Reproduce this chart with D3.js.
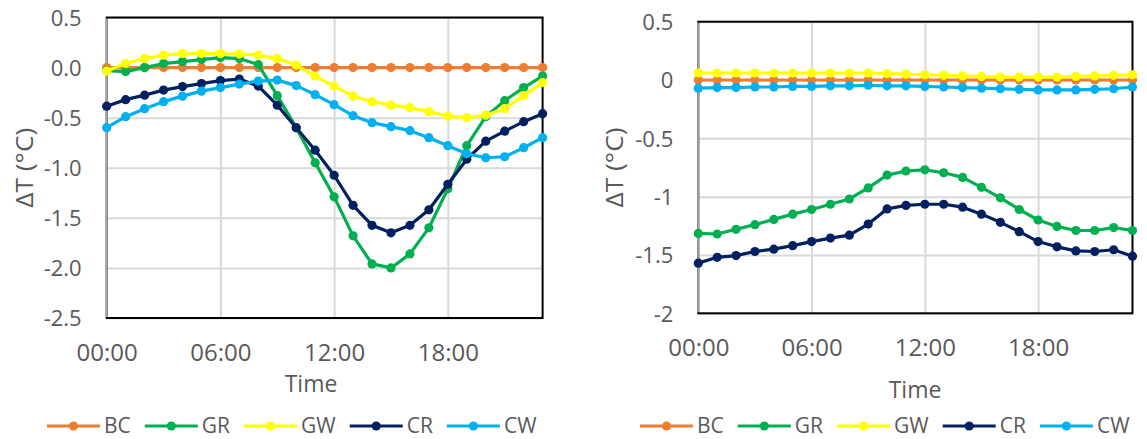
<!DOCTYPE html>
<html>
<head>
<meta charset="utf-8">
<script src="https://cdn.jsdelivr.net/npm/d3@7.9.0/dist/d3.min.js"></script>
<style>
  body { margin: 0; background: #fff; }
  svg text { font-family: "Open Sans", sans-serif; fill: #595959; }
</style>
</head>
<body>
<svg id="chart" width="1147" height="439"></svg>
<script>
// categories
const hours = [0, 1, 2, 3, 4, 5, 6, 7, 8, 9, 10, 11, 12, 13, 14, 15, 16, 17, 18, 19, 20, 21, 22, 23];
const timeTicks = [0, 6, 12, 18];
const timeLabels = ["00:00", "06:00", "12:00", "18:00"];
const seriesNames = ["BC", "GR", "GW", "CR", "CW"];
const seriesColors = ["#ED7D31", "#00B050", "#FFFF00", "#002060", "#00B0F0"];

// left panel
const leftTicks = [0.5, 0, -0.5, -1, -1.5, -2, -2.5];
const leftTickLabels = ["0.5", "0.0", "-0.5", "-1.0", "-1.5", "-2.0", "-2.5"];
const bcLeft = [0, 0, 0, 0, 0, 0, 0, 0, 0, 0, 0, 0, 0, 0, 0, 0, 0, 0, 0, 0, 0, 0, 0, 0];
const grLeft = [-0.03, -0.04, 0.0, 0.04, 0.06, 0.08, 0.10, 0.09, 0.03, -0.28, -0.60, -0.95, -1.29, -1.68, -1.96, -2.00, -1.86, -1.60, -1.21, -0.78, -0.49, -0.33, -0.20, -0.085];
const gwLeft = [-0.035, 0.04, 0.09, 0.125, 0.14, 0.14, 0.14, 0.135, 0.125, 0.09, 0.025, -0.085, -0.185, -0.285, -0.34, -0.375, -0.40, -0.44, -0.485, -0.50, -0.475, -0.41, -0.28, -0.15];
const crLeft = [-0.385, -0.32, -0.275, -0.225, -0.19, -0.16, -0.13, -0.115, -0.185, -0.375, -0.60, -0.825, -1.075, -1.375, -1.575, -1.65, -1.575, -1.42, -1.165, -0.915, -0.735, -0.635, -0.54, -0.46];
const cwLeft = [-0.60, -0.49, -0.41, -0.34, -0.285, -0.235, -0.20, -0.165, -0.135, -0.125, -0.18, -0.27, -0.37, -0.48, -0.55, -0.59, -0.63, -0.70, -0.78, -0.86, -0.90, -0.89, -0.80, -0.70];

// right panel
const rightTicks = [0.5, 0, -0.5, -1, -1.5, -2];
const rightTickLabels = ["0.5", "0", "-0.5", "-1", "-1.5", "-2"];
const bcRight = [0, 0, 0, 0, 0, 0, 0, 0, 0, 0, 0, 0, 0, 0, 0, 0, 0, 0, 0, 0, 0, 0, 0, 0];
const grRight = [-1.315, -1.32, -1.28, -1.24, -1.195, -1.15, -1.11, -1.065, -1.02, -0.925, -0.815, -0.78, -0.77, -0.795, -0.835, -0.92, -1.01, -1.11, -1.2, -1.255, -1.29, -1.29, -1.265, -1.29];
const gwRight = [0.06, 0.06, 0.06, 0.06, 0.06, 0.06, 0.06, 0.06, 0.06, 0.06, 0.055, 0.05, 0.045, 0.04, 0.035, 0.03, 0.025, 0.025, 0.025, 0.025, 0.03, 0.035, 0.04, 0.045];
const crRight = [-1.57, -1.52, -1.505, -1.47, -1.45, -1.42, -1.385, -1.355, -1.33, -1.235, -1.105, -1.075, -1.065, -1.065, -1.09, -1.15, -1.22, -1.3, -1.385, -1.43, -1.465, -1.47, -1.455, -1.51];
const cwRight = [-0.07, -0.065, -0.065, -0.06, -0.06, -0.055, -0.055, -0.05, -0.05, -0.045, -0.05, -0.05, -0.055, -0.06, -0.065, -0.07, -0.075, -0.08, -0.085, -0.085, -0.085, -0.08, -0.075, -0.06];

const svg = d3.select("#chart");

function drawPanel(p) {
  const x = d3.scaleLinear().domain([0, 23]).range([p.left, p.right]);
  const y = d3.scaleLinear().domain([p.yTicks[p.yTicks.length - 1], p.yTicks[0]]).range([p.bottom, p.top]);
  const g = svg.append("g");

  // horizontal gridlines
  g.append("g")
    .attr("transform", `translate(${p.left},0)`)
    .call(d3.axisLeft(y).tickValues(p.yTicks).tickSize(-(p.right - p.left)).tickFormat(""))
    .call(a => a.select(".domain").remove())
    .call(a => a.selectAll("line").attr("stroke", "#d9d9d9").attr("stroke-width", 2));

  // vertical gridlines
  g.append("g")
    .attr("transform", `translate(0,${p.bottom})`)
    .call(d3.axisBottom(x).tickValues(timeTicks.slice(1)).tickSize(-(p.bottom - p.top)).tickFormat(""))
    .call(a => a.select(".domain").remove())
    .call(a => a.selectAll("line").attr("stroke", "#d9d9d9").attr("stroke-width", 2));

  // plot frame
  g.append("rect")
    .attr("x", p.left).attr("y", p.top)
    .attr("width", p.right - p.left).attr("height", p.bottom - p.top)
    .attr("fill", "none").attr("stroke", "#000").attr("stroke-width", 2);

  // y axis
  g.append("g")
    .attr("transform", `translate(${p.left},0)`)
    .call(d3.axisLeft(y).tickValues(p.yTicks).tickSize(0).tickPadding(25)
      .tickFormat((d, i) => p.yLabels[i]))
    .call(a => a.select(".domain").attr("stroke", "#a6a6a6").attr("stroke-width", 2)
      .attr("d", `M0,${p.top + 1}V${p.bottom - 1}`))
    .call(a => a.selectAll("text").attr("font-size", 22).attr("dy", "0.35em")
      .attr("font-family", "Open Sans").attr("fill", "#595959"));

  // x axis labels
  g.append("g")
    .attr("transform", `translate(0,${p.bottom})`)
    .call(d3.axisBottom(x).tickValues(timeTicks).tickSize(0)
      .tickFormat((d, i) => timeLabels[i]))
    .call(a => a.select(".domain").remove())
    .call(a => a.selectAll("text").attr("font-size", 24).attr("dy", null).attr("y", 43)
      .attr("font-family", "Open Sans").attr("fill", "#595959"));

  // titles
  g.append("text")
    .attr("x", p.timeX).attr("y", p.timeY)
    .attr("text-anchor", "middle").attr("font-size", 23)
    .text("Time");
  g.append("text")
    .attr("transform", `translate(${p.yTitleX},${(p.top + p.bottom) / 2}) rotate(-90)`)
    .attr("text-anchor", "middle").attr("font-size", 23)
    .attr("textLength", 80).attr("lengthAdjust", "spacingAndGlyphs")
    .text("ΔT (°C)");

  // series
  const line = d3.line().x((d, i) => x(hours[i])).y(d => y(d));
  p.values.forEach((vals, k) => {
    const s = g.append("g");
    s.append("path")
      .attr("d", line(vals))
      .attr("fill", "none")
      .attr("stroke", seriesColors[k])
      .attr("stroke-width", 3.2)
      .attr("stroke-linejoin", "round");
    s.selectAll("circle").data(vals).join("circle")
      .attr("cx", (d, i) => x(hours[i]))
      .attr("cy", d => y(d))
      .attr("r", 4.6)
      .attr("fill", seriesColors[k]);
  });

  // legend
  const legend = g.append("g").attr("transform", `translate(${p.legendX},426)`);
  let cx = 0;
  seriesNames.forEach((name, k) => {
    legend.append("line")
      .attr("x1", cx).attr("x2", cx + 53)
      .attr("stroke", seriesColors[k]).attr("stroke-width", 3.2);
    legend.append("circle")
      .attr("cx", cx + 26.5).attr("r", 4.6).attr("fill", seriesColors[k]);
    const t = legend.append("text")
      .attr("x", cx + 57).attr("y", 7)
      .attr("font-size", 21)
      .text(name);
    cx += 57 + t.node().getComputedTextLength() + 14;
  });
}

drawPanel({
  values: [bcLeft, grLeft, gwLeft, crLeft, cwLeft],
  yTicks: leftTicks, yLabels: leftTickLabels,
  left: 106.7, right: 542.6, top: 17.5, bottom: 318,
  yTitleX: 33, timeX: 311, timeY: 392, legendX: 47
});

drawPanel({
  values: [bcRight, grRight, gwRight, crRight, cwRight],
  yTicks: rightTicks, yLabels: rightTickLabels,
  left: 698.3, right: 1132.5, top: 21.7, bottom: 313.3,
  yTitleX: 623, timeX: 915, timeY: 398, legendX: 640
});
</script>
</body>
</html>
